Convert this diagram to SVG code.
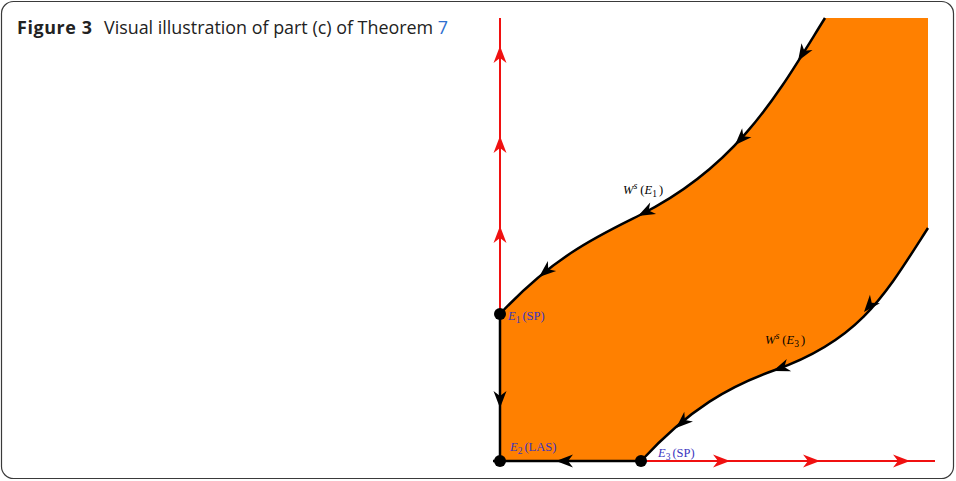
<svg xmlns="http://www.w3.org/2000/svg" xmlns:xlink="http://www.w3.org/1999/xlink" width="956" height="481" viewBox="0 0 956 481">
<style>
.frame{fill:#fff;stroke:#3a3a3a;stroke-width:1.2}
.title{font-family:"Open Sans","Noto Sans",sans-serif;font-size:17.9px;fill:#222}
.fill{fill:#ff8000;stroke:none}
.blk{fill:none;stroke:#000;stroke-width:2.5}
.red{fill:none;stroke:#f01010;stroke-width:2}
.lbl{font-family:"Liberation Serif","DejaVu Serif",serif;font-size:12.5px}
.elbl{fill:#3a35c0}
.wlbl{fill:#000}
</style>
<defs>
<path id="ah" d="M0,0 L-17,-6.5 L-12,0 L-17,6.5 Z"/>
</defs>
<rect class="frame" x="1.5" y="1.5" width="952" height="477" rx="12"/>
<text class="title" x="17" y="34"><tspan font-weight="bold" letter-spacing="0.6">Figure 3</tspan><tspan x="104">Visual illustration of part (c) of Theorem </tspan><tspan fill="#2f6fd0">7</tspan></text>

<g id="basin">
<path class="fill" d="M825,18 C780,90 740,165 640,215 C600,235 555,255 500,314 L500,461 L641,461 C690,408 730,386 775,370 C860,340 885,295 928,228 L928,18 Z"/>
</g>

<g id="connectors">
<g id="red-axis-y">
<path class="red" d="M500,18 L500,314"/>
<use href="#ah" fill="#f01010" transform="translate(500,46) rotate(-90)"/>
<use href="#ah" fill="#f01010" transform="translate(500,136) rotate(-90)"/>
<use href="#ah" fill="#f01010" transform="translate(500,226) rotate(-90)"/>
</g>
<g id="red-axis-x">
<path class="red" d="M641,461 L935,461"/>
<use href="#ah" fill="#f01010" transform="translate(730,461)"/>
<use href="#ah" fill="#f01010" transform="translate(820,461)"/>
<use href="#ah" fill="#f01010" transform="translate(910,461)"/>
</g>
<g id="ws-e1">
<path class="blk" d="M825,18 C780,90 740,165 640,215 C600,235 555,255 500,314"/>
<use href="#ah" fill="#000" transform="translate(798,61) rotate(122)"/>
<use href="#ah" fill="#000" transform="translate(735,145) rotate(134)"/>
<use href="#ah" fill="#000" transform="translate(638,216) rotate(153)"/>
<use href="#ah" fill="#000" transform="translate(539,277) rotate(140)"/>
</g>
<g id="ws-e3">
<path class="blk" d="M928,228 C885,295 860,340 775,370 C730,386 690,408 641,461"/>
<use href="#ah" fill="#000" transform="translate(864,312) rotate(130)"/>
<use href="#ah" fill="#000" transform="translate(773,371) rotate(160)"/>
<use href="#ah" fill="#000" transform="translate(676,428) rotate(138)"/>
</g>
<g id="e1-e2">
<path class="blk" d="M500,314 L500,461"/>
<use href="#ah" fill="#000" transform="translate(500,408) rotate(90)"/>
</g>
<g id="e3-e2">
<path class="blk" d="M641,461 L493,461"/>
<use href="#ah" fill="#000" transform="translate(556,461) rotate(180)"/>
</g>
</g>

<g id="E1">
<circle cx="500" cy="314" r="6"/>
<text class="lbl elbl" x="508" y="320"><tspan font-style="italic">E</tspan><tspan font-size="9.5" dy="3">1</tspan><tspan dy="-3" dx="2">(SP)</tspan></text>
</g>
<g id="E2">
<circle cx="500" cy="461" r="6"/>
<text class="lbl elbl" x="510" y="451"><tspan font-style="italic">E</tspan><tspan font-size="9.5" dy="3">2</tspan><tspan dy="-3" dx="2">(LAS)</tspan></text>
</g>
<g id="E3">
<circle cx="641" cy="461" r="6"/>
<text class="lbl elbl" x="658" y="457"><tspan font-style="italic">E</tspan><tspan font-size="9.5" dy="3">3</tspan><tspan dy="-3" dx="2">(SP)</tspan></text>
</g>
<g id="label-ws-e1">
<text class="lbl wlbl" x="623" y="194" font-size="13"><tspan font-style="italic">W</tspan><tspan font-size="10" font-style="italic" dy="-5">s</tspan><tspan dy="5" dx="3">(</tspan><tspan font-style="italic">E</tspan><tspan font-size="9.5" dy="3">1</tspan><tspan dy="-3" dx="2">)</tspan></text>
</g>
<g id="label-ws-e3">
<text class="lbl wlbl" x="765" y="344" font-size="13"><tspan font-style="italic">W</tspan><tspan font-size="10" font-style="italic" dy="-5">s</tspan><tspan dy="5" dx="3">(</tspan><tspan font-style="italic">E</tspan><tspan font-size="9.5" dy="3">3</tspan><tspan dy="-3" dx="2">)</tspan></text>
</g>
</svg>
